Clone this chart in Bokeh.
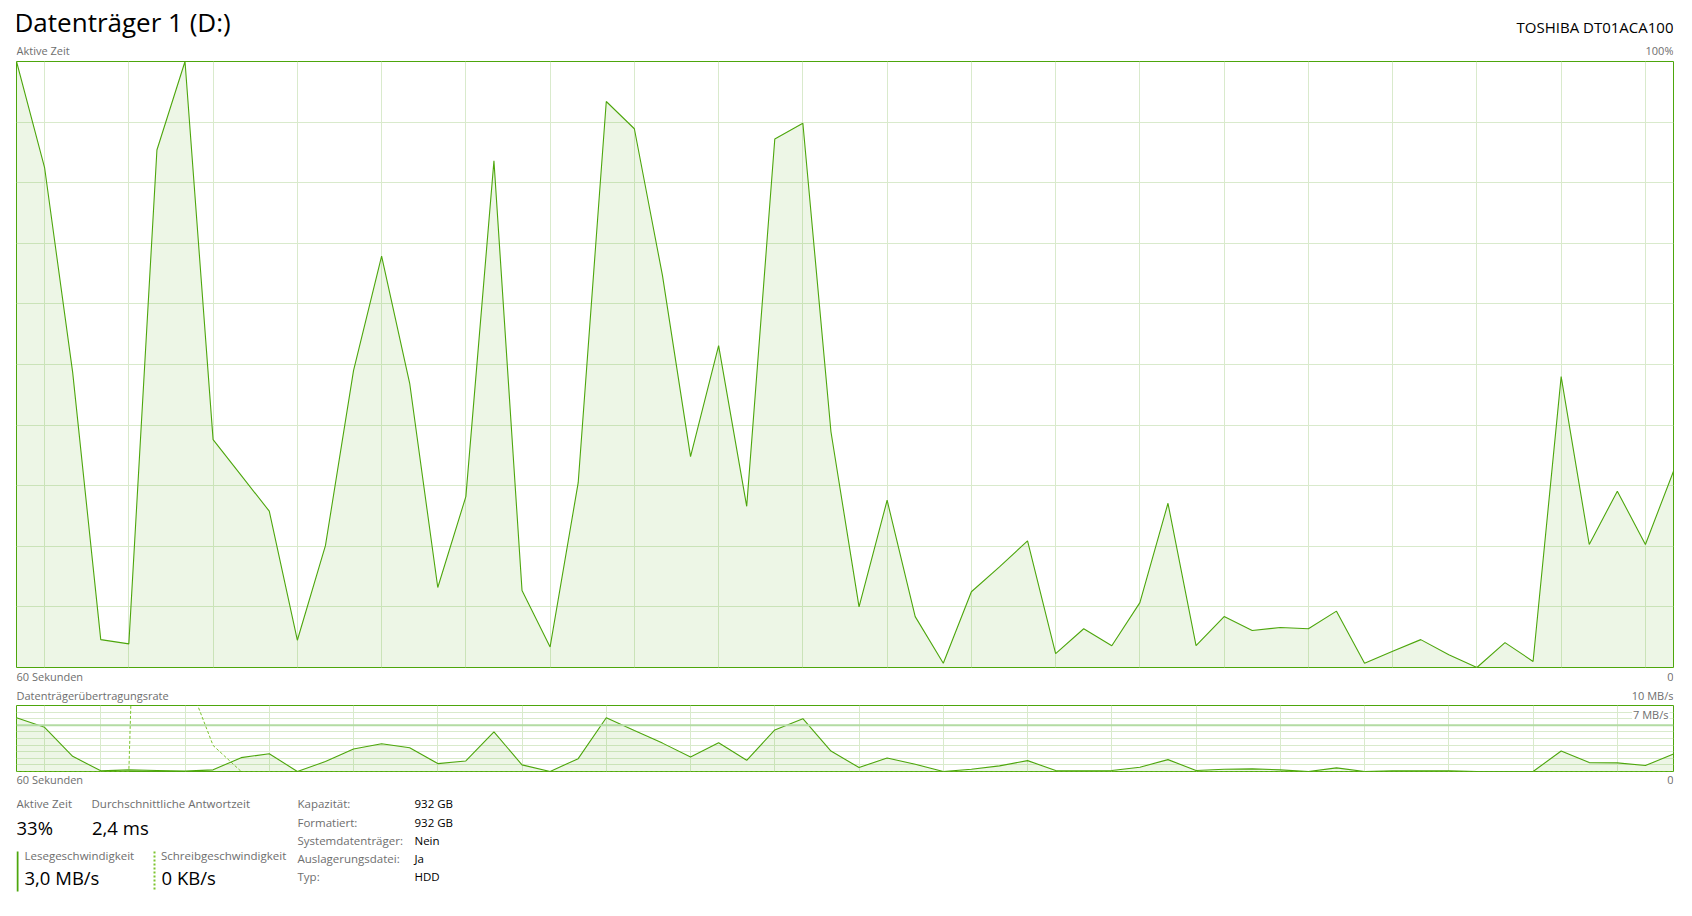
from bokeh.plotting import figure
from bokeh.models import Range1d, Label, Grid, FixedTicker, Span
from bokeh.layouts import column
from bokeh.embed import file_html
from bokeh.resources import INLINE

# ---------------- data ----------------
title_text = "Datenträger 1 (D:)"
model_text = "TOSHIBA DT01ACA100"
seconds = list(range(60))
active_time = [100, 82.5, 48.7, 4.6, 3.9, 85.4, 100, 37.6, 31.7, 25.8,
               4.5, 20.1, 49.0, 67.9, 46.9, 13.2, 28.2, 83.6, 12.7, 3.4,
               30.5, 93.4, 88.9, 64.7, 34.8, 53.1, 26.6, 87.2, 89.8, 38.9,
               10.0, 27.6, 8.4, 0.7, 12.5, 16.6, 20.9, 2.3, 6.4, 3.6,
               10.7, 27.1, 3.6, 8.4, 6.1, 6.6, 6.4, 9.3, 0.7, 2.7,
               4.6, 2.1, 0.0, 4.1, 1.0, 48.0, 20.3, 29.1, 20.3, 32.4]
read_rate = [8.15, 6.7, 2.3, 0.1, 0.25, 0.15, 0.05, 0.25, 2.1, 2.7,
             0.0, 1.5, 3.4, 4.2, 3.6, 1.2, 1.6, 6.0, 1.0, 0.0,
             1.95, 8.15, 6.2, 4.3, 2.2, 4.35, 1.7, 6.3, 8.0, 3.1,
             0.6, 2.05, 1.1, 0.0, 0.35, 0.85, 1.65, 0.15, 0.1, 0.15,
             0.65, 1.8, 0.15, 0.35, 0.4, 0.25, 0.0, 0.55, 0.0, 0.1,
             0.1, 0.1, 0.0, 0.0, 0.0, 3.1, 1.35, 1.3, 0.9, 2.65]
write_rate = [0, 0, 0, 0, 0, 140, 15, 3.95, 0, 0,
              0, 0, 0, 0, 0, 0, 0, 0, 0, 0,
              0, 0, 0, 0, 0, 0, 0, 0, 0, 0,
              0, 0, 0, 0, 0, 0, 0, 0, 0, 0,
              0, 0, 0, 0, 0, 0, 0, 0, 0, 0,
              0, 0, 0, 0, 0, 0, 0, 0, 0, 0]
active_grid_x = list(range(1, 60, 3))
active_grid_y = [10, 20, 30, 40, 50, 60, 70, 80, 90]
rate_grid_x = [1] + list(range(3, 60, 3))
rate_grid_y = [1, 2, 3, 4, 5, 6, 8, 9]
rate_max_line = 7
active_max = 100
rate_max = 10

stat_labels = ["Aktive Zeit", "Durchschnittliche Antwortzeit", "Lesegeschwindigkeit", "Schreibgeschwindigkeit"]
stat_values = ["33%", "2,4 ms", "3,0 MB/s", "0 KB/s"]
prop_labels = ["Kapazität:", "Formatiert:", "Systemdatenträger:", "Auslagerungsdatei:", "Typ:"]
prop_values = ["932 GB", "932 GB", "Nein", "Ja", "HDD"]

# ---------------- style ----------------
GREEN = "#4DA60C"
WRITE = "#7cc42e"
GRID = "#d9eacc"
MAXLINE = "#b3dba3"
GRAY = "#6e6e6e"
BLACK = "#000000"
FONT = "Open Sans"
W = 1684
LEFT, RIGHT = 16, 1673
SHIFT = 0.42  # em, baseline correction for rendered labels


def chart_fig(height, y_end):
    p = figure(width=W, height=height, x_range=Range1d(0, 59), y_range=Range1d(0, y_end),
               output_backend="svg", toolbar_location=None, x_axis_type=None, y_axis_type=None,
               min_border_left=LEFT, min_border_right=W - RIGHT, min_border_top=1, min_border_bottom=1,
               title=None)
    p.outline_line_color = GREEN
    p.outline_line_width = 1
    p.background_fill_color = "white"
    p.border_fill_color = "white"
    return p


def text_fig(top, bottom):
    p = figure(width=W, height=bottom - top, x_range=Range1d(LEFT, RIGHT), y_range=Range1d(bottom, top),
               output_backend="svg", toolbar_location=None, x_axis_type=None, y_axis_type=None,
               min_border_left=LEFT, min_border_right=W - RIGHT, min_border_top=0, min_border_bottom=0,
               title=None)
    p.outline_line_color = None
    p.background_fill_color = "white"
    p.border_fill_color = "white"
    return p


def label(p, x, y, text, size, color, align="left", **kw):
    px = float(size.replace("px", ""))
    p.add_layout(Label(x=x, y=y - SHIFT * px, text=text, text_font=FONT, text_font_size=size,
                       text_color=color, text_align=align, text_baseline="alphabetic", **kw))


# ---------------- header ----------------
h1 = text_fig(0, 60)
label(h1, 14, 32, title_text, "26px", BLACK)
label(h1, RIGHT, 33, model_text, "15px", BLACK, align="right")
label(h1, LEFT, 55, "Aktive Zeit", "11px", GRAY)
label(h1, RIGHT, 55, "100%", "11px", GRAY, align="right")

# ---------------- main chart: Aktive Zeit (page y 61..667) ----------------
pA = chart_fig(608, active_max)
pA.add_layout(Grid(dimension=0, ticker=FixedTicker(ticks=active_grid_x), grid_line_color=GRID))
pA.add_layout(Grid(dimension=1, ticker=FixedTicker(ticks=active_grid_y), grid_line_color=GRID))
pA.varea(x=seconds, y1=0, y2=active_time, fill_color=GREEN, fill_alpha=0.1)
pA.line(seconds, active_time, line_color=GREEN, line_width=1.1)

# ---------------- between charts ----------------
h2 = text_fig(668, 704)
label(h2, LEFT, 681, "60 Sekunden", "11px", GRAY)
label(h2, RIGHT, 681, "0", "11px", GRAY, align="right")
label(h2, LEFT, 700, "Datenträgerübertragungsrate", "11px", GRAY)
label(h2, RIGHT, 700, "10 MB/s", "11px", GRAY, align="right")

# ---------------- rate chart (page y 705..771) ----------------
pB = chart_fig(68, rate_max)
pB.add_layout(Grid(dimension=0, ticker=FixedTicker(ticks=rate_grid_x), grid_line_color=GRID))
pB.add_layout(Grid(dimension=1, ticker=FixedTicker(ticks=rate_grid_y), grid_line_color=GRID))
pB.varea(x=seconds, y1=0, y2=read_rate, fill_color=GREEN, fill_alpha=0.1)
pB.add_layout(Span(location=rate_max_line, dimension="width", line_color=MAXLINE, line_width=2))
pB.line(seconds, write_rate, line_color=WRITE, line_width=1, line_dash="3 2")
pB.line(seconds, read_rate, line_color=GREEN, line_width=1.1)
pB.add_layout(Label(x=RIGHT - LEFT - 4, y=771 - 719 + SHIFT * 11, x_units="screen", y_units="screen",
                    text="7 MB/s", text_font=FONT, text_font_size="11px", text_color=GRAY,
                    text_align="right", text_baseline="alphabetic",
                    background_fill_color="white", padding=1))

# ---------------- stats panel ----------------
pC = text_fig(772, 908)
label(pC, LEFT, 784, "60 Sekunden", "11px", GRAY)
label(pC, RIGHT, 784, "0", "11px", GRAY, align="right")
label(pC, 16, 808, stat_labels[0], "11.5px", GRAY)
label(pC, 91, 808, stat_labels[1], "11.5px", GRAY)
label(pC, 16, 835, stat_values[0], "18.5px", BLACK)
label(pC, 91.5, 835, stat_values[1], "18.5px", BLACK)
label(pC, 24, 860, stat_labels[2], "11.5px", GRAY)
label(pC, 160.5, 860, stat_labels[3], "11.5px", GRAY)
label(pC, 24, 885, stat_values[2], "18.5px", BLACK)
label(pC, 161, 885, stat_values[3], "18.5px", BLACK)
pC.segment(x0=[17], y0=[851], x1=[17], y1=[891], line_color=GREEN, line_width=2)
pC.segment(x0=[154], y0=[851], x1=[154], y1=[891], line_color=WRITE, line_width=2, line_dash="2 2")

prop_y = [808, 826.5, 844.5, 862.5, 881]
for lab_t, val_t, yy in zip(prop_labels, prop_values, prop_y):
    label(pC, 297, yy, lab_t, "11.5px", GRAY)
    label(pC, 414, yy, val_t, "11.5px", BLACK)

layout = column(h1, pA, h2, pB, pC, spacing=0)
open("out.html", "w").write(file_html(layout, INLINE))
